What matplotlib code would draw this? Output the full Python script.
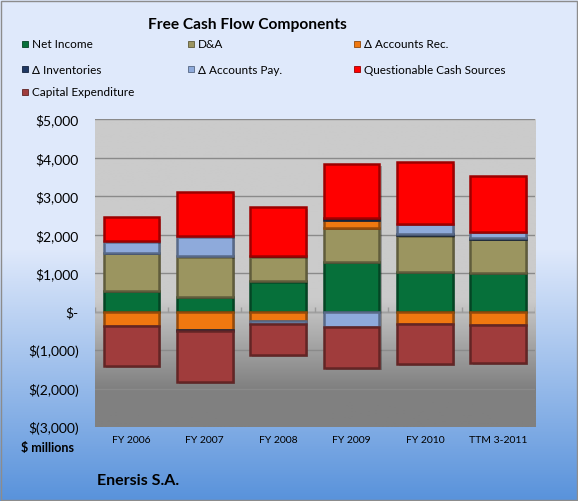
import matplotlib.pyplot as plt
import matplotlib.patheffects as pe
import numpy as np
from matplotlib.colors import to_rgb
from matplotlib.patches import Rectangle
from matplotlib.ticker import FuncFormatter

categories = ['FY 2006', 'FY 2007', 'FY 2008', 'FY 2009', 'FY 2010', 'TTM 3-2011']
net_income = [540, 380, 780, 1280, 1020, 1000]
d_and_a = [980, 1050, 650, 885, 955, 890]
accounts_rec = [-375, -480, -250, 215, -330, -340]
inventories = [0, -30, 0, 60, 30, 30]
accounts_pay = [300, 520, -80, -400, 270, 140]
questionable = [640, 1150, 1290, 1385, 1610, 1450]
capex = [-1040, -1310, -800, -1070, -1030, -990]

series_names = ['Net Income', 'D&A', 'Δ Accounts Rec.', 'Δ Inventories',
                'Δ Accounts Pay.', 'Questionable Cash Sources', 'Capital Expenditure']
series_values = [net_income, d_and_a, accounts_rec, inventories,
                 accounts_pay, questionable, capex]
colors = ['#06703a', '#9b9560', '#f07810', '#1f3864', '#8eaadb', '#ff0000', '#a03c3c']

plt.rcParams['font.family'] = ['Lato', 'DejaVu Sans']

W, H = 578, 502
fig = plt.figure(figsize=(W / 100, H / 100), dpi=100)

# figure background gradient (light blue -> darker blue)
bg = fig.add_axes([0, 0, 1, 1], zorder=-10)
rows = np.arange(H)
top_c = np.array([0xdf, 0xe9, 0xfb]) / 255
bot_c = np.array([0x58, 0x92, 0xdb]) / 255
t = np.clip((rows - 250) / (H - 250), 0, 1)
grad = top_c[None, :] * (1 - t[:, None]) + bot_c[None, :] * t[:, None]
bg.imshow(grad[:, None, :], aspect='auto', extent=[0, 1, 0, 1])
bg.add_patch(Rectangle((0.002, 0.002), 0.996, 0.995, fill=False,
                       edgecolor='#8c8c8c', linewidth=1, transform=bg.transAxes))
bg.set_axis_off()

def px(x, y):
    return x / W, 1 - y / H

ax = fig.add_axes([94.7 / W, (H - 428) / H, (535 - 94.7) / W, (428 - 120) / H])
ax.patch.set_visible(False)

x = np.arange(len(categories))
ymin, ymax = -3000, 5000

# plot-area gradient (light gray -> dark gray)
yv = np.linspace(ymax, ymin, 300)
g = np.interp(yv, [-2000, 320], [0x80 / 255, 0xcb / 255])
ax.imshow(np.repeat(g[:, None], 3, axis=1)[:, None, :], aspect='auto',
          extent=[-0.5, len(categories) - 0.5, ymin, ymax], zorder=0)

for v in range(ymin + 1000, ymax + 1, 1000):
    ax.axhline(v, color='#8a8a8a', linewidth=1, zorder=1)
ax.axhline(0, color='#a0a0a0', linewidth=1, zorder=1)
ax.vlines(np.arange(len(categories) + 1) - 0.5, 0, 110, color='#9a9a9a', linewidth=1, zorder=1)

shadow = [pe.SimplePatchShadow(offset=(1.5, -1.5), shadow_rgbFace='black', alpha=0.25), pe.Normal()]

pos = np.zeros(len(categories))
neg = np.zeros(len(categories))
for name, vals, c in zip(series_names, series_values, colors):
    vals = np.array(vals, dtype=float)
    bottom = np.where(vals >= 0, pos, neg)
    edge = tuple(np.array(to_rgb(c)) * 0.62)
    bars = ax.bar(x, vals, 0.76, bottom=bottom, color=c, edgecolor=edge,
                  linewidth=1.8, zorder=3, label=name)
    for b in bars:
        b.set_path_effects(shadow)
    pos = pos + np.where(vals >= 0, vals, 0)
    neg = neg + np.where(vals < 0, vals, 0)

ax.set_xlim(-0.5, len(categories) - 0.5)
ax.set_ylim(ymin, ymax)
ax.set_yticks(range(ymin, ymax + 1, 1000))

def money(v, p):
    if v == 0:
        return '$-'
    if v < 0:
        return '$({:,.0f})'.format(-v)
    return '${:,.0f}'.format(v)

ax.yaxis.set_major_formatter(FuncFormatter(money))
ax.set_xticks(x, categories)
ax.tick_params(axis='y', length=0, pad=11.5, labelsize=10, labelcolor='black')
ax.tick_params(axis='x', length=0, pad=6, labelsize=7.5)
for s in ax.spines.values():
    s.set_visible(False)

# title and legend
fig.text(*px(247, 25), 'Free Cash Flow Components', ha='center', va='center',
         fontsize=11.2, fontweight='bold')
col_x = [22, 188, 354]
row_y = [45, 70, 93]
for i, (name, c) in enumerate(zip(series_names, colors)):
    cx = col_x[i % 3]
    cy = row_y[i // 3]
    edge = tuple(np.array(to_rgb(c)) * 0.6)
    sx, sy = px(cx, cy + 3)
    fig.patches.append(Rectangle((sx, sy), 6 / W, 6 / H, facecolor=c, edgecolor=edge,
                                 linewidth=0.6, transform=fig.transFigure))
    fig.text(*px(cx + 10, cy), name, ha='left', va='center', fontsize=8.5)

fig.text(*px(47.5, 448), '$ millions', ha='center', va='center', fontsize=9, fontweight='bold')
fig.text(*px(97, 481), 'Enersis S.A.', ha='left', va='center', fontsize=11.5, fontweight='bold')

fig.savefig('out.png', dpi=100)
